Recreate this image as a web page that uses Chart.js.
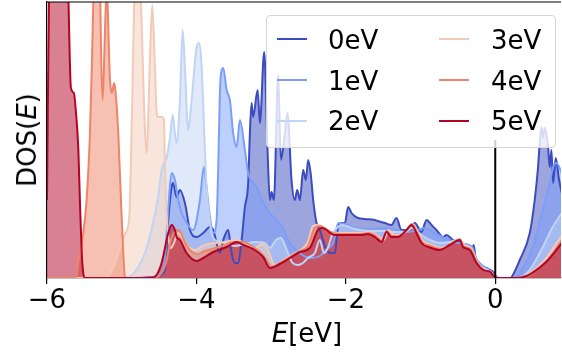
<!DOCTYPE html>
<html>
<head>
<meta charset="utf-8">
<script src="https://cdn.jsdelivr.net/npm/chart.js@4"></script>
<style>
  body { margin: 0; background: #fff; }
  #wrap { position: relative; width: 562px; height: 356px; font-family: "DejaVu Sans"; }
  canvas { display: block; }
  .txt { position: absolute; font-size: 26px; line-height: 30px; color: #000; white-space: nowrap; }
  #ylab { left: 26.5px; top: 140px; transform: translate(-50%, -50%) rotate(-90deg); }
  #xlab { left: 307px; top: 318px; transform: translateX(-50%); }
  #legend { position: absolute; left: 266px; top: 15px; width: 290px; height: 133px; box-sizing: border-box;
            background: rgba(255, 255, 255, 0.8); border: 1px solid #d6d6d6; border-radius: 4px; }
  .handle { position: absolute; width: 30px; height: 2px; }
</style>
</head>
<body>
<div id="wrap">
  <canvas id="dos" width="562" height="356"></canvas>
  <div id="ylab" class="txt">DOS(<i>E</i>)</div>
  <div id="xlab" class="txt"><i>E</i>[eV]</div>
  <div id="legend"></div>
</div>
<script>
// DOS curves, [energy (eV), DOS] pairs
const dos0eV = [[-6.0,0],[-4.8,0],[-4.55,0.1],[-4.421,0.8],[-4.377,5.8],[-4.332,9.1],[-4.314,9.5],[-4.265,8.1],[-4.221,8.8],[-4.154,7.5],[-4.087,4.8],[-3.997,4.1],[-3.909,4.5],[-3.819,5.1],[-3.775,4.8],[-3.686,2.5],[-3.641,3.8],[-3.575,4.8],[-3.529,2.5],[-3.485,1.5],[-3.441,1.5],[-3.395,3.8],[-3.351,7.1],[-3.307,9.5],[-3.284,14.5],[-3.262,17.5],[-3.24,16.1],[-3.181,18.8],[-3.15,15.5],[-3.093,22.6],[-3.048,12.8],[-3.017,7.8],[-2.994,8.6],[-2.963,7.8],[-2.906,20.3],[-2.87,11.8],[-2.83,13.5],[-2.78,16.5],[-2.727,9.8],[-2.682,7.8],[-2.651,8.8],[-2.615,7.8],[-2.571,10.8],[-2.535,9.8],[-2.504,11.8],[-2.468,10.3],[-2.437,7.8],[-2.392,5.5],[-2.348,4.8],[-2.258,2.8],[-2.191,2.5],[-2.147,2.5],[-2.111,4.8],[-2.08,5.5],[-2.013,5.5],[-1.969,7.1],[-1.924,6.5],[-1.839,6.0],[-1.746,5.9],[-1.612,5.8],[-1.572,5.7],[-1.478,5.5],[-1.389,5.3],[-1.322,6.0],[-1.255,4.8],[-1.171,4.8],[-1.077,5.5],[-0.987,4.6],[-0.92,5.8],[-0.853,5.3],[-0.787,4.8],[-0.698,4.1],[-0.653,4.3],[-0.565,3.8],[-0.452,3.5],[-0.385,3.0],[-0.318,2.8],[-0.288,3.3],[-0.261,1.8],[-0.207,1.3],[-0.118,1.0],[-0.029,0.6],[0.016,0.1],[0.05,0],[0.194,0],[0.22,0.1],[0.328,1.8],[0.462,4.5],[0.528,7.8],[0.573,11.1],[0.595,13.5],[0.618,15.1],[0.64,14.0],[0.662,15.0],[0.689,14.2],[0.707,13.1],[0.729,11.1],[0.752,12.8],[0.774,9.5],[0.81,12.0],[0.85,10.0],[0.89,8.5]];

const dos1eV = [[-6.0,0],[-4.9,0],[-4.6,0.1],[-4.488,0.4],[-4.421,2.0],[-4.377,7.0],[-4.332,10.5],[-4.288,9.8],[-4.244,7.8],[-4.198,6.5],[-4.131,5.5],[-4.043,4.8],[-3.953,7.8],[-3.9,11.1],[-3.864,9.1],[-3.819,6.1],[-3.775,4.5],[-3.73,5.8],[-3.708,11.1],[-3.686,18.5],[-3.663,20.8],[-3.641,21.0],[-3.596,18.8],[-3.552,17.8],[-3.508,14.5],[-3.462,13.1],[-3.418,15.8],[-3.351,12.8],[-3.307,10.5],[-3.195,9.1],[-3.106,7.5],[-3.017,6.5],[-2.927,5.8],[-2.843,5.0],[-2.75,3.5],[-2.62,2.5],[-2.48,2.0],[-2.35,2.2],[-2.24,3.0],[-2.17,3.5],[-2.10,5.5],[-2.01,5.4],[-1.88,5.0],[-1.68,4.9],[-1.48,5.0],[-1.34,4.8],[-1.21,4.6],[-1.08,4.7],[-0.94,5.0],[-0.81,4.5],[-0.68,4.0],[-0.54,3.6],[-0.41,3.4],[-0.31,3.1],[-0.26,2.0],[-0.18,1.3],[-0.08,0.8],[0.01,0.1],[0.05,0],[0.25,0],[0.328,0.5],[0.502,3.1],[0.636,6.8],[0.729,9.5],[0.774,11.1],[0.819,11.5],[0.89,10.5]];

const dos2eV = [[-6.0,0],[-5.0,0],[-4.916,0.1],[-4.823,0.6],[-4.689,2.5],[-4.595,5.0],[-4.515,8.0],[-4.46,11.0],[-4.40,12.0],[-4.355,14.0],[-4.318,16.3],[-4.288,14.5],[-4.265,13.5],[-4.221,17.8],[-4.185,24.8],[-4.154,21.1],[-4.11,14.8],[-4.064,17.8],[-3.997,23.1],[-3.963,23.5],[-3.93,21.1],[-3.886,12.8],[-3.864,9.1],[-3.829,6.1],[-3.797,4.5],[-3.753,3.8],[-3.619,3.5],[-3.485,3.2],[-3.351,3.4],[-3.217,3.6],[-3.084,3.5],[-3.017,3.0],[-2.936,3.8],[-2.87,4.0],[-2.803,3.0],[-2.722,1.6],[-2.642,1.3],[-2.575,1.5],[-2.508,2.0],[-2.415,2.5],[-2.348,3.8],[-2.294,2.5],[-2.241,3.0],[-2.174,4.5],[-2.12,5.0],[-2.054,5.3],[-1.88,4.9],[-1.68,4.7],[-1.48,4.7],[-1.34,4.6],[-1.21,4.6],[-1.117,5.0],[-1.01,4.4],[-0.876,3.8],[-0.742,3.5],[-0.609,3.6],[-0.475,3.9],[-0.41,3.3],[-0.318,2.9],[-0.25,1.6],[-0.157,1.0],[-0.06,0.6],[0.01,0.1],[0.06,0],[0.30,0],[0.462,0.8],[0.636,3.1],[0.769,5.1],[0.89,6.5]];

const dos3eV = [[-6.0,0],[-5.3,0],[-5.197,0.1],[-5.09,1.5],[-5.023,3.0],[-4.95,4.5],[-4.90,6.0],[-4.859,17.8],[-4.832,28],[-4.783,33],[-4.745,28.5],[-4.70,17],[-4.666,12.5],[-4.622,22],[-4.591,27.3],[-4.555,21.1],[-4.532,16.5],[-4.511,16.1],[-4.457,16.1],[-4.435,15.8],[-4.421,11.1],[-4.408,7.8],[-4.381,4.5],[-4.341,3.0],[-4.301,3.5],[-4.247,4.5],[-4.181,4.0],[-4.114,3.2],[-4.02,2.8],[-3.886,3.3],[-3.753,3.5],[-3.619,3.6],[-3.485,3.8],[-3.351,3.5],[-3.217,3.0],[-3.124,3.4],[-3.044,2.8],[-2.95,1.3],[-2.856,1.7],[-2.722,2.3],[-2.589,2.9],[-2.508,3.6],[-2.441,5.2],[-2.375,5.3],[-2.214,4.6],[-2.013,4.5],[-1.786,4.5],[-1.68,4.6],[-1.572,4.2],[-1.492,3.8],[-1.425,4.8],[-1.358,4.3],[-1.278,4.3],[-1.157,5.0],[-1.104,5.4],[-1.037,4.6],[-0.97,3.7],[-0.85,3.3],[-0.716,3.0],[-0.582,3.5],[-0.475,3.9],[-0.421,3.3],[-0.328,3.0],[-0.248,1.7],[-0.155,0.9],[-0.06,0.6],[0.007,0.1],[0.05,0],[0.33,0],[0.52,0.8],[0.685,2.0],[0.82,3.5],[0.89,4.2]];

const dos4eV = [[-6.0,0],[-5.62,0],[-5.60,0.4],[-5.58,1.6],[-5.515,4.5],[-5.47,7.8],[-5.425,14.5],[-5.40,21.1],[-5.38,27.6],[-5.33,34],[-5.291,29],[-5.26,17.8],[-5.20,28.5],[-5.157,19.8],[-5.134,18.5],[-5.10,19.5],[-5.081,18.5],[-5.046,14.5],[-5.01,7.8],[-4.979,2.5],[-4.957,0.1],[-4.93,0],[-4.6,0],[-4.488,0.3],[-4.408,1.5],[-4.341,3.8],[-4.265,4.8],[-4.221,4.7],[-4.154,3.6],[-4.087,2.8],[-3.993,2.4],[-3.886,2.7],[-3.753,3.0],[-3.619,3.3],[-3.485,3.6],[-3.378,3.6],[-3.258,3.2],[-3.15,2.6],[-3.07,1.9],[-2.99,1.1],[-2.883,1.5],[-2.749,2.1],[-2.615,2.7],[-2.508,3.2],[-2.415,5.0],[-2.348,5.2],[-2.174,4.5],[-2.013,4.4],[-1.786,4.4],[-1.69,4.5],[-1.599,4.2],[-1.518,3.7],[-1.452,4.7],[-1.385,4.2],[-1.291,4.2],[-1.177,4.9],[-1.117,5.4],[-1.05,4.6],[-0.983,3.6],[-0.863,3.2],[-0.729,2.9],[-0.595,3.4],[-0.475,3.85],[-0.428,3.2],[-0.334,2.9],[-0.248,1.6],[-0.155,0.85],[-0.067,0.6],[0.007,0.1],[0.04,0],[0.36,0],[0.55,0.8],[0.70,1.8],[0.82,3.0],[0.89,3.8]];

const dos5eV = [[-6.0,7.8],[-5.96,36],[-5.85,42],[-5.74,36],[-5.715,28.5],[-5.68,19.0],[-5.64,18.5],[-5.615,16.8],[-5.58,12.8],[-5.56,7.8],[-5.535,2.5],[-5.515,0.5],[-5.49,0],[-5.3,0],[-5.0,0],[-4.8,0],[-4.6,0.05],[-4.555,0.13],[-4.466,1.5],[-4.377,4.5],[-4.332,5.3],[-4.288,4.8],[-4.265,4.1],[-4.22,3.8],[-4.131,2.5],[-3.997,1.7],[-3.909,2.0],[-3.775,2.6],[-3.596,3.1],[-3.462,3.6],[-3.374,3.3],[-3.24,2.9],[-3.106,2.1],[-3.017,1.0],[-2.883,1.4],[-2.749,2.0],[-2.615,2.6],[-2.482,3.0],[-2.375,4.8],[-2.321,5.0],[-2.147,4.3],[-1.79,4.3],[-1.706,4.4],[-1.612,4.1],[-1.522,3.6],[-1.455,4.6],[-1.389,4.1],[-1.304,4.1],[-1.188,4.8],[-1.121,5.3],[-1.054,4.5],[-0.987,3.5],[-0.876,3.05],[-0.742,2.8],[-0.609,3.3],[-0.475,3.8],[-0.431,3.1],[-0.341,2.8],[-0.251,1.5],[-0.162,0.8],[-0.074,0.63],[-0.007,0.13],[0.033,0],[0.28,0],[0.418,0.2],[0.551,0.8],[0.685,1.63],[0.819,2.8],[0.89,3.5]];

const series = [dos0eV, dos1eV, dos2eV, dos3eV, dos4eV, dos5eV];
const labels = ['0eV', '1eV', '2eV', '3eV', '4eV', '5eV'];
const colors = ['#3b4cc0', '#7b9ff9', '#c0d4f5', '#f2cbb7', '#ee8468', '#b40426'];

const xTicks = [-6, -4, -2, 0];
const xMin = -6, xMax = 0.88;
const yMax = 27.6;
const fermiTop = 13.8;   // Fermi-level marker runs up to half the axis height

function rgba(hex, a) {
  const n = parseInt(hex.slice(1), 16);
  return `rgba(${n >> 16}, ${(n >> 8) & 255}, ${n & 255}, ${a})`;
}

const datasets = series.map((pts, i) => ({
  label: labels[i],
  data: pts.map(([x, y]) => ({ x, y })),
  borderColor: colors[i],
  backgroundColor: rgba(colors[i], 0.5),
  borderWidth: 2,
  fill: 'origin',
  order: series.length - i,
  cubicInterpolationMode: 'monotone',
}));

datasets.push({
  label: 'Ef',
  data: [{ x: 0, y: 0 }, { x: 0, y: fermiTop }],
  borderColor: '#000',
  borderWidth: 2,
  fill: false,
  order: -1,
  tension: 0,
});

// top spine of the frame
const topSpine = {
  id: 'topSpine',
  afterDraw(chart) {
    const { ctx, chartArea: a } = chart;
    ctx.save();
    ctx.strokeStyle = '#000';
    ctx.lineWidth = 1.2;
    ctx.beginPath();
    ctx.moveTo(a.left, a.top);
    ctx.lineTo(a.right, a.top);
    ctx.stroke();
    ctx.restore();
  },
};

Chart.defaults.font.family = 'DejaVu Sans';

new Chart(document.getElementById('dos'), {
  type: 'line',
  data: { datasets },
  plugins: [topSpine],
  options: {
    responsive: false,
    animation: false,
    layout: { padding: { top: 2, right: 1, left: 0, bottom: 0 } },
    elements: { point: { radius: 0 } },
    plugins: {
      legend: { display: false },
      tooltip: { enabled: false },
      filler: { drawTime: 'beforeDatasetsDraw' },
    },
    scales: {
      x: {
        type: 'linear',
        min: xMin,
        max: xMax,
        afterBuildTicks: (s) => { s.ticks = xTicks.map((v) => ({ value: v })); },
        afterFit: (s) => { s.height = 78; },
        ticks: {
          padding: 2,
          color: '#000',
          font: { size: 26 },
          maxRotation: 0,
          callback: (v) => (v < 0 ? '\u2212' + Math.abs(v) : String(v)),
        },
        grid: { drawOnChartArea: false, drawTicks: true, tickLength: 6, color: '#000', lineWidth: 1.2 },
        border: { display: true, color: '#000', width: 1.2 },
      },
      y: {
        min: 0,
        max: yMax,
        afterFit: (s) => { s.width = 47; },
        ticks: { display: false },
        grid: { display: false },
        border: { display: true, color: '#000', width: 1.2 },
      },
    },
  },
});

// legend in two columns, three rows each
const legend = document.getElementById('legend');
labels.forEach((name, i) => {
  const col = Math.floor(i / 3), row = i % 3;
  const cy = 23.3 + 40.8 * row;
  const h = document.createElement('div');
  h.className = 'handle';
  h.style.left = (col ? 172 : 10) + 'px';
  h.style.top = (cy - 1) + 'px';
  h.style.background = colors[i];
  legend.appendChild(h);
  const t = document.createElement('div');
  t.className = 'txt';
  t.style.left = (col ? 224 : 61) + 'px';
  t.style.top = (cy - 14.5) + 'px';
  t.textContent = name;
  legend.appendChild(t);
});
</script>
</body>
</html>
